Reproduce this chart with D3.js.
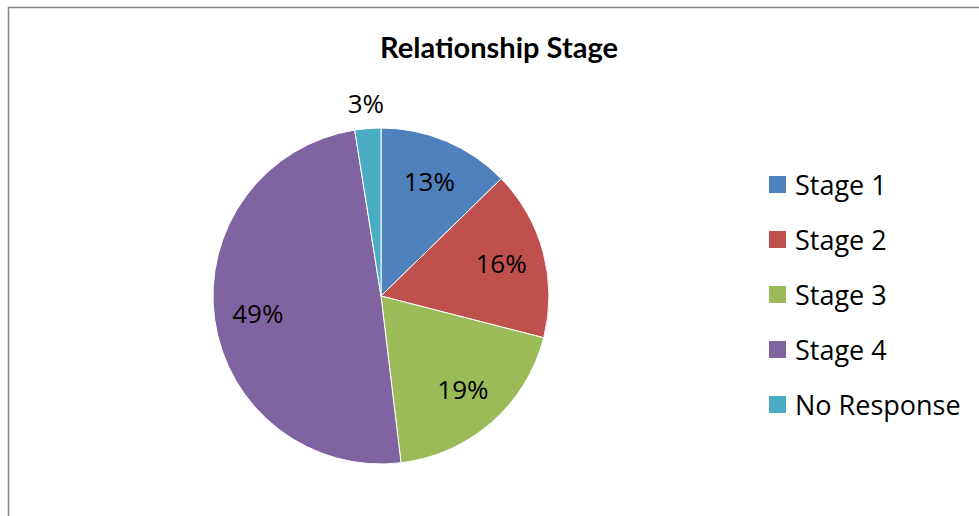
<!DOCTYPE html>
<html>
<head>
    <meta charset="utf-8">
    <title>Relationship Stage</title>
    <style>
        body { margin: 0; background: #fff; }
        text { font-family: "Open Sans", sans-serif; }
    </style>
</head>
<body>
    <script src="https://d3js.org/d3.v7.min.js"></script>
    <script>
    const categories = ["Stage 1", "Stage 2", "Stage 3", "Stage 4", "No Response"];
    const values = [12.7, 16.3, 19.1, 49.4, 2.5];
    const colors = ["#4f81bd", "#c0504d", "#9bbb59", "#8064a2", "#4bacc6"];

    const width = 979, height = 516;
    const cx = 381, cy = 296, radius = 168;

    const svg = d3.select("body").append("svg")
        .attr("width", width)
        .attr("height", height);

    // chart frame (only top and left edges show)
    svg.append("path")
        .attr("d", "M8.5,516 L8.5,7.5 L979,7.5")
        .attr("fill", "none")
        .attr("stroke", "#868686")
        .attr("stroke-width", 1.5);

    svg.append("text")
        .attr("x", 499)
        .attr("y", 58)
        .attr("text-anchor", "middle")
        .style("font-family", "Lato, sans-serif")
        .style("font-size", "29px")
        .style("font-weight", "bold")
        .text("Relationship Stage");

    const pie = d3.pie().sort(null)(values);
    const arc = d3.arc().innerRadius(0).outerRadius(radius);
    const labelArc = d3.arc().innerRadius(radius * 0.74).outerRadius(radius * 0.74);
    const outerArc = d3.arc().innerRadius(radius * 1.15).outerRadius(radius * 1.15);

    const g = svg.append("g").attr("transform", "translate(" + cx + "," + cy + ")");

    g.selectAll("path")
        .data(pie)
        .enter()
        .append("path")
        .attr("d", arc)
        .attr("fill", (d, i) => colors[i])
        .attr("stroke", "#fff")
        .attr("stroke-width", 1);

    g.selectAll("text.lbl")
        .data(pie)
        .enter()
        .append("text")
        .attr("class", "lbl")
        .attr("transform", d => "translate(" + (d.value < 5 ? outerArc : labelArc).centroid(d) + ")")
        .attr("text-anchor", "middle")
        .attr("dy", "0.36em")
        .style("font-size", "26px")
        .style("fill", "#000")
        .text(d => Math.round(d.value) + "%");

    const legend = svg.append("g").attr("transform", "translate(769,185)");
    const item = legend.selectAll("g")
        .data(categories)
        .enter()
        .append("g")
        .attr("transform", (d, i) => "translate(0," + i * 55 + ")");

    item.append("rect")
        .attr("x", 0)
        .attr("y", -9)
        .attr("width", 17)
        .attr("height", 17)
        .attr("fill", (d, i) => colors[i]);

    item.append("text")
        .attr("x", 26)
        .attr("dy", "0.36em")
        .style("font-size", "27px")
        .text(d => d);
    </script>
</body>
</html>
